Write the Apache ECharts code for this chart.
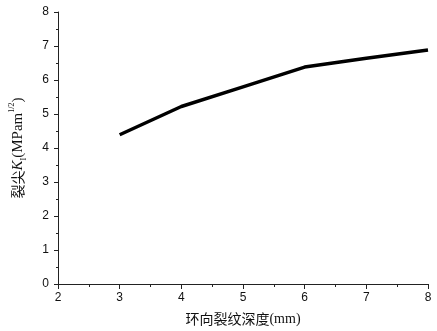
<!DOCTYPE html>
<html><head><meta charset="utf-8">
<script src="https://cdn.jsdelivr.net/npm/echarts@6/dist/echarts.min.js"></script>
<style>html,body{margin:0;padding:0;background:#fff}#c{width:437px;height:331px}</style>
</head><body><div id="c"></div>
<script>
const depth = [3, 4, 5, 6, 7, 8];
const kValues = [4.39, 5.22, 5.80, 6.38, 6.64, 6.88];
const xTicks = [2, 3, 4, 5, 6, 7, 8];
const yTicks = [0, 1, 2, 3, 4, 5, 6, 7, 8];

const cjk = '"Noto Sans CJK SC", serif';
const chart = echarts.init(document.getElementById('c'));
chart.setOption({
  animation: false,
  grid: {left: 54, right: 9, top: 12, bottom: 46},
  xAxis: {
    type: 'value', min: xTicks[0], max: xTicks[xTicks.length-1], interval: 1,
    name: '{a|环向裂纹深度}{b|(mm)}', nameLocation: 'middle', nameGap: 25,
    nameTextStyle: {
      rich: {
        a: {fontFamily: cjk, fontSize: 14, color: '#111', lineHeight: 20},
        b: {fontFamily: 'Liberation Serif', fontSize: 14, color: '#111', lineHeight: 20}
      }
    },
    axisLine: {lineStyle: {color: '#222', width: 1}},
    axisTick: {show: true, length: 5, lineStyle: {color: '#222'}},
    minorTick: {show: true, splitNumber: 2, length: 3, lineStyle: {color: '#222'}},
    axisLabel: {fontFamily: 'Liberation Sans, Arial', fontSize: 12, color: '#111', margin: 8},
    splitLine: {show: false}
  },
  yAxis: {
    type: 'value', min: yTicks[0], max: yTicks[yTicks.length-1], interval: 1,
    name: '{a|裂尖}{k|K}{s|I}{b|(MPam}{p|1/2}{b|)}', nameLocation: 'middle', nameGap: 30,
    nameTextStyle: {
      rich: {
        a: {fontFamily: cjk, fontSize: 14, color: '#111', lineHeight: 20},
        b: {fontFamily: 'Liberation Serif', fontSize: 15, color: '#111', lineHeight: 20},
        k: {fontFamily: 'Liberation Serif', fontStyle: 'italic', fontSize: 15, color: '#111', lineHeight: 20},
        s: {fontFamily: 'Liberation Serif', fontSize: 8, color: '#111', verticalAlign: 'bottom', lineHeight: 20},
        p: {fontFamily: 'Liberation Serif', fontSize: 8, color: '#111', verticalAlign: 'top', lineHeight: 20}
      }
    },
    axisLine: {show: true, lineStyle: {color: '#222', width: 1}},
    axisTick: {show: true, length: 4, lineStyle: {color: '#222'}},
    minorTick: {show: true, splitNumber: 2, length: 2, lineStyle: {color: '#222'}},
    axisLabel: {fontFamily: 'Liberation Sans, Arial', fontSize: 12, color: '#111', margin: 9},
    splitLine: {show: false}
  },
  series: [{
    type: 'line',
    data: depth.map((d, i) => [d, kValues[i]]),
    showSymbol: false,
    lineStyle: {color: '#000', width: 3.5}
  }]
});
</script></body></html>
